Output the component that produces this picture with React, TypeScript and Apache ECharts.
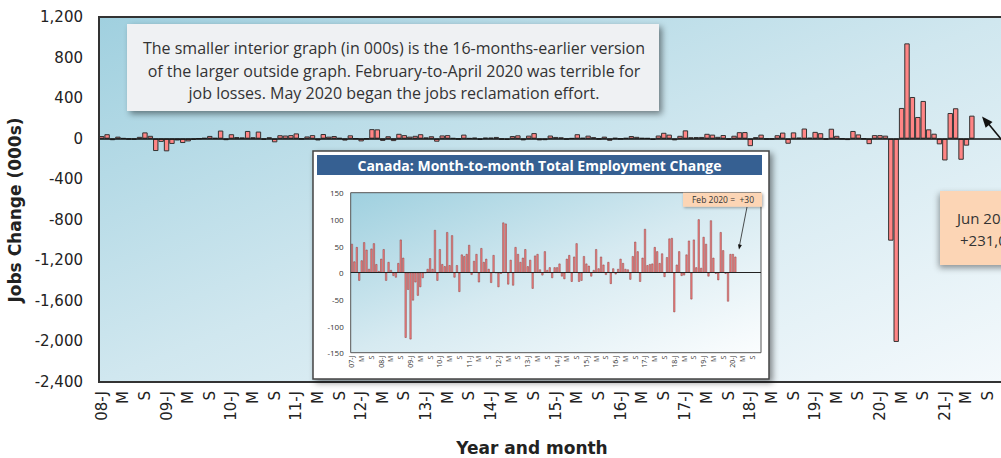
import { useEffect, useRef } from "react";
import * as echarts from "echarts";

// ---------- categories ----------
const insetYears = [2007, 2008, 2009, 2010, 2011, 2012, 2013, 2014, 2015, 2016, 2017, 2018, 2019, 2020];
const mainYears = [2008, 2009, 2010, 2011, 2012, 2013, 2014, 2015, 2016, 2017, 2018, 2019, 2020, 2021];
const monthCodes = ["J", "F", "M", "A", "M", "J", "J", "A", "S", "O", "N", "D"];

// ---------- data: monthly employment change (000s), Feb-2020 vintage ----------
const v2007 = [54, 21, 48, -15, 23, 57, 43, 7, 45, 55, 16, 3];
const v2008 = [26, 44, -15, 20, 5, -6, -9, 18, 62, 28, -122, -32];
const v2009 = [-125, -52, -18, -43, -27, -10, 0, 7, 27, 7, 80, -15];
const v2010 = [44, 16, 12, 76, 14, 70, -9, 14, -36, 34, 31, 35];
const v2011 = [52, -4, 22, 35, -18, 46, 20, 26, 7, -19, 33, 0];
const v2012 = [-27, -2, 94, 92, -22, 24, -24, 48, 35, 20, 28, 44];
const v2013 = [12, 24, -30, 32, 35, 6, -5, 40, 5, 10, -10, 10];
const v2014 = [10, 17, -7, -12, 26, 33, -17, 30, 55, -17, -15, 31];
const v2015 = [17, 13, -7, 5, 44, 8, 30, 15, -4, 20, -21, 8];
const v2016 = [-3, 7, 26, 18, 7, 6, -13, 31, 58, 40, -17, 28];
const v2017 = [82, 14, 16, 17, 48, 40, 18, 36, -8, 29, 64, 65];
const v2018 = [-74, 15, 40, -6, -5, 34, 60, -50, 62, 10, 100, 9];
const v2019 = [67, 54, -7, 98, 28, -2, -14, 76, 42, -2, -54, 35];
const v2020JanFeb = [35, 30];
// Mar 2020 – Jun 2021 (later vintage, outer chart)
const pandemicPeriod = [-1006, -2005, 303, 940, 411, 214, 372, 92, 49, -56, -215, 253, 300, -208, -69, 227];

const insetValues = [
  ...v2007, ...v2008, ...v2009, ...v2010, ...v2011, ...v2012, ...v2013,
  ...v2014, ...v2015, ...v2016, ...v2017, ...v2018, ...v2019, ...v2020JanFeb,
];
const mainValues = [
  ...v2008, ...v2009, ...v2010, ...v2011, ...v2012, ...v2013, ...v2014,
  ...v2015, ...v2016, ...v2017, ...v2018, ...v2019, ...v2020JanFeb, ...pandemicPeriod,
];

const buildCats = (years: number[]) =>
  years.flatMap((y) => monthCodes.map((m, i) => `${y}-${i + 1}`));
const mainCats = buildCats(mainYears);
const insetCats = buildCats(insetYears);

const monthLabel = (value: string) => {
  const [y, m] = value.split("-");
  const mi = Number(m) - 1;
  if (mi === 0) return `${y.slice(2)}-${monthCodes[mi]}`;
  return monthCodes[mi];
};

function arrowHead(x1: number, y1: number, x2: number, y2: number, len: number, half: number) {
  const dx = x2 - x1;
  const dy = y2 - y1;
  const d = Math.hypot(dx, dy);
  const ux = dx / d;
  const uy = dy / d;
  const bx = x2 - ux * len;
  const by = y2 - uy * len;
  return [
    [x2, y2],
    [bx - uy * half, by + ux * half],
    [bx + uy * half, by - ux * half],
  ];
}

export default function App() {
  const ref = useRef<HTMLDivElement>(null);

  useEffect(() => {
    if (!ref.current) return;
    const chart = echarts.init(ref.current, null, { renderer: "svg" });

    const gradMain = new echarts.graphic.LinearGradient(0, 0, 1, 1, [
      { offset: 0, color: "#a0d0df" },
      { offset: 0.5, color: "#d0e7ef" },
      { offset: 1, color: "#f4f9fc" },
    ]);
    const gradInset = new echarts.graphic.LinearGradient(0, 0, 1, 1, [
      { offset: 0, color: "#9fd0df" },
      { offset: 0.5, color: "#d6eaf1" },
      { offset: 1, color: "#fbfdfe" },
    ]);

    const annFont = "16px 'Open Sans', sans-serif";
    const shadow = { shadowBlur: 6, shadowOffsetX: 3, shadowOffsetY: 3, shadowColor: "rgba(0,0,0,0.45)" };

    const option: any = {
      animation: false,
      grid: [
        { left: 99, top: 17, width: 908, height: 365, show: false },
        { left: 350.7, top: 192.7, width: 410.3, height: 160, show: false },
      ],
      xAxis: [
        {
          type: "category",
          gridIndex: 0,
          data: mainCats,
          axisLine: { show: false },
          axisTick: { show: false },
          axisLabel: {
            interval: 3,
            rotate: 90,
            margin: 9,
            fontSize: 15,
            color: "#222",
            fontFamily: "'DejaVu Sans', sans-serif",
            formatter: monthLabel,
          },
        },
        {
          type: "category",
          gridIndex: 1,
          data: insetCats,
          z: 12,
          axisLine: { show: false },
          axisTick: { show: false },
          axisLabel: {
            interval: 3,
            rotate: 90,
            margin: 3,
            fontSize: 7,
            color: "#333",
            fontFamily: "'Open Sans', sans-serif",
            formatter: monthLabel,
          },
        },
      ],
      yAxis: [
        {
          type: "value",
          gridIndex: 0,
          min: -2400,
          max: 1200,
          interval: 400,
          splitLine: { show: false },
          axisLine: { show: false },
          axisTick: { show: false },
          axisLabel: {
            margin: 16,
            fontSize: 15,
            color: "#222",
            fontFamily: "'DejaVu Sans', sans-serif",
            formatter: (v: number) => v.toLocaleString("en-US"),
          },
        },
        {
          type: "value",
          gridIndex: 1,
          min: -150,
          max: 150,
          interval: 50,
          z: 12,
          splitLine: { show: false },
          axisLine: { show: false },
          axisTick: { show: false },
          axisLabel: {
            margin: 7,
            fontSize: 8,
            color: "#333",
            fontFamily: "'Open Sans', sans-serif",
          },
        },
      ],
      series: [
        {
          type: "bar",
          xAxisIndex: 0,
          yAxisIndex: 0,
          data: mainValues,
          barCategoryGap: "0%",
          z: 2,
          itemStyle: { color: "#ff8585", borderColor: "#333", borderWidth: 1 },
          markLine: {
            silent: true,
            symbol: "none",
            z: 3,
            label: { show: false },
            lineStyle: { color: "#111", width: 1.5, type: "solid" },
            data: [{ yAxis: 0 }],
          },
        },
        {
          type: "bar",
          xAxisIndex: 1,
          yAxisIndex: 1,
          data: insetValues,
          barCategoryGap: "20%",
          z: 12,
          itemStyle: { color: "#f78585", borderColor: "#8a3a3a", borderWidth: 0.5 },
          markLine: {
            silent: true,
            symbol: "none",
            z: 13,
            label: { show: false },
            lineStyle: { color: "#222", width: 1, type: "solid" },
            data: [{ yAxis: 0 }],
          },
        },
      ],
      graphic: [
        // main plot background + frame
        { type: "rect", z: 0, silent: true, shape: { x: 99, y: 17, width: 908, height: 365 }, style: { fill: gradMain } },
        { type: "rect", z: 6, silent: true, shape: { x: 99, y: 17, width: 908, height: 365 }, style: { fill: "none", stroke: "#333", lineWidth: 2 } },
        // axis titles
        {
          type: "text", z: 6, x: 15, y: 210, rotation: Math.PI / 2,
          style: { text: "Jobs Change (000s)", fill: "#222", font: "bold 17px 'DejaVu Sans', sans-serif", textAlign: "center", textVerticalAlign: "middle" },
        },
        {
          type: "text", z: 6, x: 532, y: 448,
          style: { text: "Year and month", fill: "#222", font: "bold 17px 'DejaVu Sans', sans-serif", textAlign: "center", textVerticalAlign: "middle" },
        },
        // top-left annotation
        { type: "rect", z: 10, silent: true, shape: { x: 127, y: 24, width: 532, height: 87 }, style: { fill: "#eff1f3", ...shadow } },
        { type: "text", z: 11, x: 394, y: 48, style: { text: "The smaller interior graph (in 000s) is the 16-months-earlier version", fill: "#333", font: annFont, textAlign: "center", textVerticalAlign: "middle" } },
        { type: "text", z: 11, x: 394, y: 71, style: { text: "of the larger outside graph. February-to-April 2020 was terrible for", fill: "#333", font: annFont, textAlign: "center", textVerticalAlign: "middle" } },
        { type: "text", z: 11, x: 394, y: 93, style: { text: "job losses. May 2020 began the jobs reclamation effort.", fill: "#333", font: annFont, textAlign: "center", textVerticalAlign: "middle" } },
        // inset box
        { type: "rect", z: 10, silent: true, shape: { x: 313, y: 151, width: 456, height: 228 }, style: { fill: "#fff", stroke: "#444", lineWidth: 1.5, ...shadow } },
        { type: "rect", z: 11, silent: true, shape: { x: 317, y: 155, width: 445, height: 20 }, style: { fill: "#366092" } },
        { type: "text", z: 12, x: 539.5, y: 165.5, style: { text: "Canada: Month-to-month Total Employment Change", fill: "#fff", font: "bold 14px 'Open Sans', sans-serif", textAlign: "center", textVerticalAlign: "middle" } },
        { type: "rect", z: 11, silent: true, shape: { x: 350.7, y: 192.7, width: 410.3, height: 160 }, style: { fill: gradInset } },
        { type: "rect", z: 13, silent: true, shape: { x: 350.7, y: 192.7, width: 410.3, height: 160 }, style: { fill: "none", stroke: "#555", lineWidth: 1 } },
        // inset callout
        { type: "rect", z: 14, silent: true, shape: { x: 683, y: 192.7, width: 79, height: 14 }, style: { fill: "#fcd5b5", shadowBlur: 3, shadowOffsetX: 1, shadowOffsetY: 1, shadowColor: "rgba(0,0,0,0.35)" } },
        { type: "text", z: 15, x: 723, y: 199.7, style: { text: "Feb 2020 =  +30", fill: "#333", font: "8.5px 'Open Sans', sans-serif", textAlign: "center", textVerticalAlign: "middle" } },
        { type: "line", z: 14, silent: true, shape: { x1: 747, y1: 207, x2: 739.6, y2: 245 }, style: { stroke: "#222", lineWidth: 0.8 } },
        { type: "polygon", z: 14, silent: true, shape: { points: arrowHead(747, 207, 739, 249.5, 5, 2) }, style: { fill: "#111" } },
        // main callout
        { type: "rect", z: 10, silent: true, shape: { x: 940, y: 191, width: 100, height: 74 }, style: { fill: "#fcd5b5", shadowBlur: 6, shadowOffsetX: -1, shadowOffsetY: 3, shadowColor: "rgba(0,0,0,0.4)" } },
        { type: "text", z: 11, x: 957, y: 218, style: { text: "Jun 2021 =", fill: "#333", font: "15px 'Open Sans', sans-serif", textAlign: "left", textVerticalAlign: "middle" } },
        { type: "text", z: 11, x: 960, y: 240, style: { text: "+231,000", fill: "#333", font: "15px 'Open Sans', sans-serif", textAlign: "left", textVerticalAlign: "middle" } },
        { type: "line", z: 10, silent: true, shape: { x1: 1006, y1: 145, x2: 987, y2: 122 }, style: { stroke: "#111", lineWidth: 1.6 } },
        { type: "polygon", z: 10, silent: true, shape: { points: arrowHead(1006, 145, 982, 116.5, 11, 4.5) }, style: { fill: "#111" } },
      ],
    };

    chart.setOption(option);
    return () => chart.dispose();
  }, []);

  return (
    <div style={{ position: "fixed", left: 0, top: 0, width: 1001, height: 458, overflow: "hidden", background: "#fff" }}>
      <div ref={ref} style={{ width: 1040, height: 458 }} />
    </div>
  );
}
